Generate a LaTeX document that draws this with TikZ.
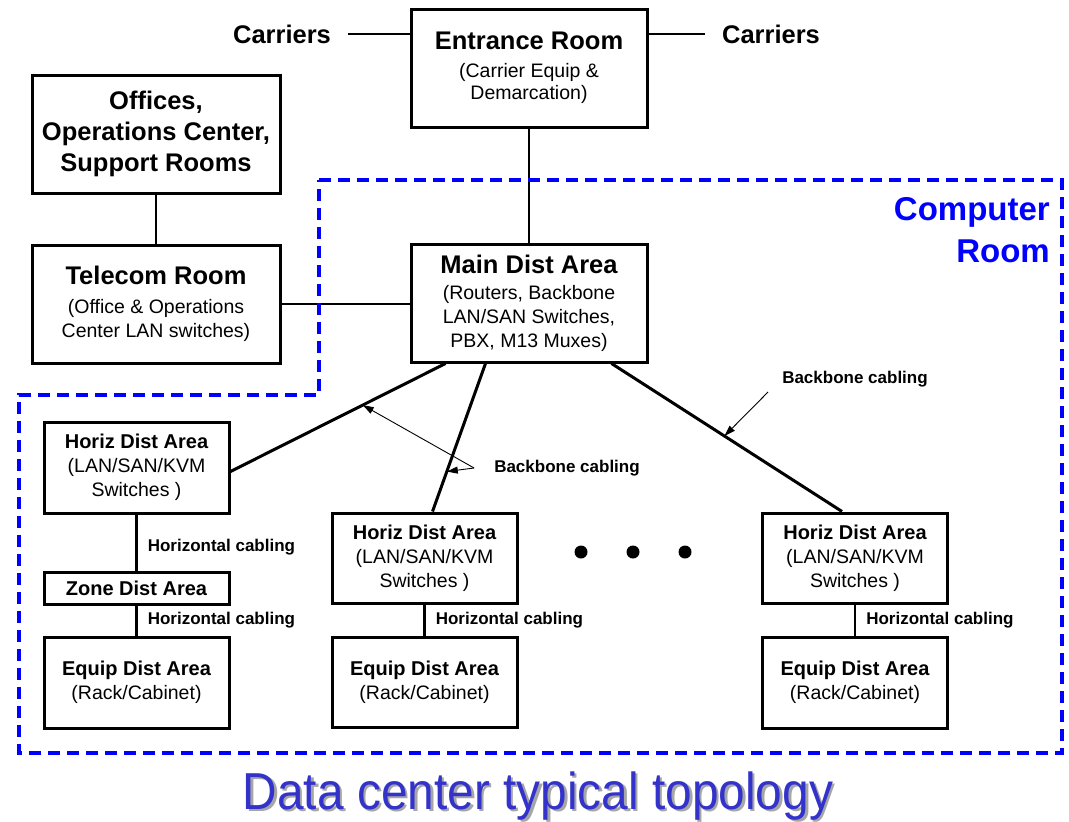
\documentclass[tikz,border=0pt]{standalone}
\usepackage{fontspec}
\setmainfont{Liberation Sans}
\usepackage{xcolor}
\usetikzlibrary{shapes,positioning,calc,arrows.meta}
\definecolor{roomblue}{RGB}{0,0,255}
\definecolor{titleblue}{RGB}{51,51,204}
\newcommand\roomfont{\fontsize{25.5}{31}\selectfont\bfseries}
\newcommand\subtxt{\fontsize{19.5}{24}\selectfont}
\newcommand\areafont{\fontsize{20}{24}\selectfont\bfseries}
\newcommand\cablefont{\fontsize{17}{20}\selectfont\bfseries}
\newcommand\crfont{\fontsize{33}{42}\selectfont\bfseries}
\newcommand\ttlfont{\fontsize{52}{60}\selectfont}

\begin{document}
\begin{tikzpicture}[x=1pt, y=-1pt,
    box/.style={draw, line width=3pt, align=center, inner sep=0pt, font=\subtxt},
    bigbox/.style={box, minimum width=236pt, minimum height=118pt},
    sidebox/.style={box, minimum width=248pt, minimum height=118pt},
    areabox/.style={box, minimum width=185pt, minimum height=91pt},
    link/.style={line width=2.5pt},
    backbone/.style={line width=3pt},
    note/.style={line width=0.9pt, -{Triangle[length=11pt,width=7pt]}},
    cable/.style={font=\cablefont, inner sep=0pt},
    carrier/.style={font=\roomfont, inner xsep=17pt, inner ysep=0pt},
    dot/.style={circle, fill, inner sep=0pt, minimum size=13pt},
    croom/.style={roomblue, line width=3.5pt, dash pattern=on 12pt off 7pt}]
    \useasboundingbox (0,0) rectangle (1069,822);

    \node[bigbox, font=\fontsize{19.5}{22}\selectfont] (ent) at (529,68) {{\roomfont Entrance Room}\\[6pt](Carrier Equip \&\\Demarcation)};
    \node[carrier] (carL) at (282,34) {Carriers};
    \node[carrier] (carR) at (771,34) {Carriers};
    \draw[link] (carL.east) -- (carL.east -| ent.west);
    \draw[link] (carR.west) -- (carR.west -| ent.east);

    \node[sidebox, font=\roomfont] (off) at (156,134) {Offices,\\Operations Center,\\Support Rooms};
    \node[sidebox] (tel) at (156,304) {{\roomfont Telecom Room}\\[5pt](Office \& Operations\\Center LAN switches)};
    \node[bigbox] (mda) at (529,303) {{\roomfont Main Dist Area}\\[2pt](Routers, Backbone\\LAN/SAN Switches,\\PBX, M13 Muxes)};
    \draw[link] (off) -- (tel);
    \draw[link] (ent) -- (mda);
    \draw[link] (tel.east) -- (tel.east -| mda.west);

    \draw[croom] (319,180) -- (1062,180) -- (1062,753) -- (19,753) -- (19,395) -- (319,395) -- cycle;
    \node[font=\crfont, text=roomblue, align=right, anchor=east, inner sep=0pt] (crlbl) at (1050,230) {Computer\\Room};

    \node[areabox] (hdaL) at (136.5,467.5) {{\areafont Horiz Dist Area}\\(LAN/SAN/KVM\\Switches )};
    \node[box, minimum width=185pt, minimum height=32pt] (zda) at (136.5,588) {\areafont Zone Dist Area};
    \node[areabox] (edaL) at (136.5,682.5) {{\areafont Equip Dist Area}\\(Rack/Cabinet)};
    \node[areabox, minimum height=90pt] (hdaM) at (424.5,558) {{\areafont Horiz Dist Area}\\(LAN/SAN/KVM\\Switches )};
    \node[areabox, minimum height=90pt] (edaM) at (424.5,682) {{\areafont Equip Dist Area}\\(Rack/Cabinet)};
    \node[areabox, minimum height=90pt] (hdaR) at (855,558) {{\areafont Horiz Dist Area}\\(LAN/SAN/KVM\\Switches )};
    \node[areabox] (edaR) at (855,682.5) {{\areafont Equip Dist Area}\\(Rack/Cabinet)};

    \draw[link] (hdaL) -- node[cable, right=10pt, yshift=-5pt] (hc1) {Horizontal cabling} (zda);
    \draw[link] (zda) -- node[cable, right=10pt] (hc2) {Horizontal cabling} (edaL);
    \draw[link] (hdaM) -- node[cable, right=10pt] (hc3) {Horizontal cabling} (edaM);
    \draw[link] (hdaR) -- node[cable, right=10pt] (hc4) {Horizontal cabling} (edaR);

    \draw[backbone] ([xshift=36pt]mda.south west) -- coordinate[pos=0.385] (bbL) ([yshift=-4pt]hdaL.east);
    \draw[backbone] ([xshift=76pt]mda.south west) -- coordinate[pos=0.73] (bbM) ([xshift=8pt]hdaM.north);
    \draw[backbone] ([xshift=-37pt]mda.south east) -- coordinate[pos=0.49] (bbR) ([xshift=-13pt]hdaR.north);

    \node[cable] (bb1) at (855,379) {Backbone cabling};
    \node[cable] (bb2) at (567,468) {Backbone cabling};
    \draw[note] ([xshift=-14pt,yshift=-13pt]bb1.west) -- (bbR);
    \draw[note] ([xshift=-20pt]bb2.west) -- (bbL);
    \draw[note] ([xshift=-20pt]bb2.west) -- (bbM);

    \foreach \i/\x in {1/581,2/633,3/685}
        \node[dot] (d\i) at (\x,552) {};

    \node[font=\ttlfont, text=black!35, anchor=base] (ttlsh) at (540.5,811.5) {\scalebox{0.92}[1]{Data center typical topology}};
    \node[font=\ttlfont, text=titleblue, anchor=base] (ttl) at (538,809) {\scalebox{0.92}[1]{Data center typical topology}};
\end{tikzpicture}
\end{document}
